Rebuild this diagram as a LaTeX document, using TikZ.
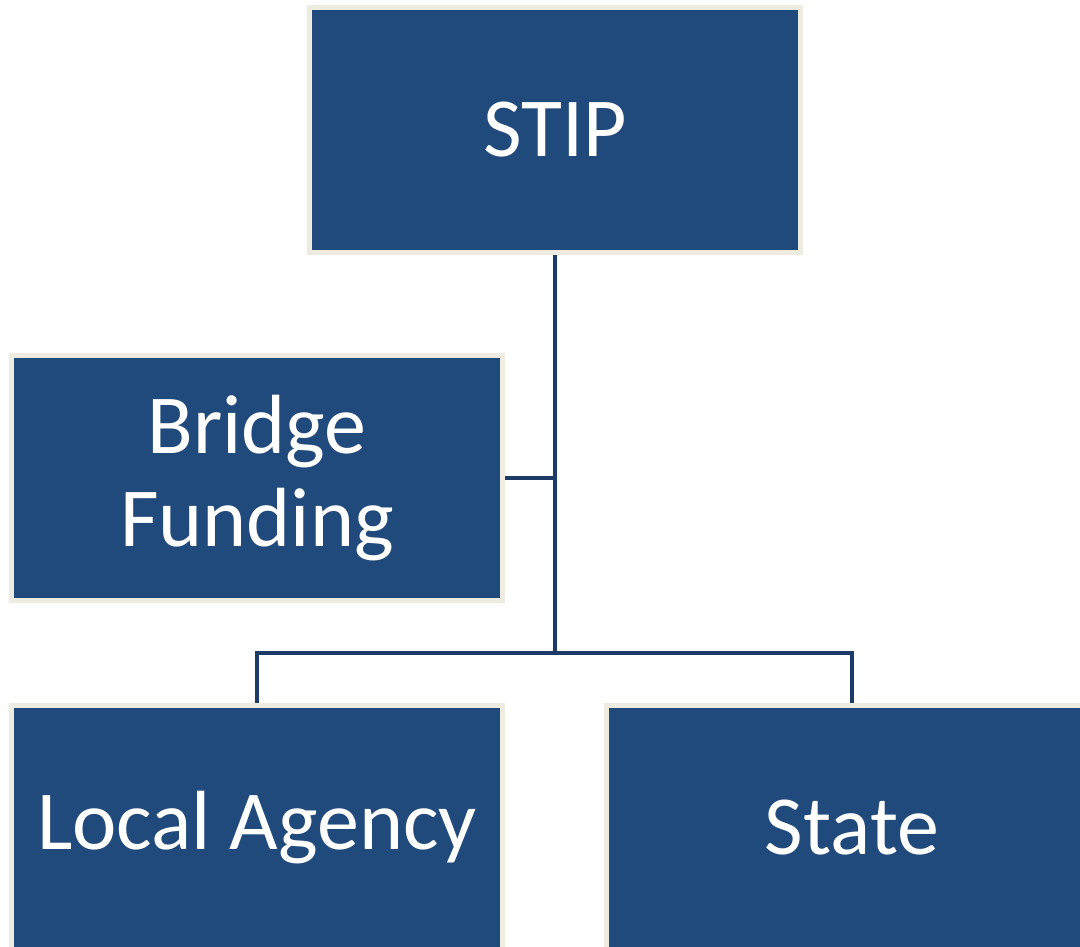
\documentclass[tikz,border=0pt]{standalone}
\usepackage{fontspec}
\setmainfont{Carlito}
\definecolor{boxblue}{HTML}{214A7C}
\definecolor{boxedge}{HTML}{EEEBE1}
\definecolor{linkblue}{HTML}{1C3B66}
\begin{document}
\begin{tikzpicture}[x=1pt,y=-1pt,
  orgbox/.style={draw=boxedge,line width=5pt,fill=boxblue,text=white,
    minimum width=491pt,minimum height=245pt,inner sep=0pt,align=center,
    font=\fontsize{84}{93}\selectfont},
  link/.style={draw=linkblue,line width=4.5pt}]
\useasboundingbox (0,0) rectangle (1080,947);
\clip (0,0) rectangle (1080,947);
\node[orgbox] (stip) at (555,130) {STIP};
\node[orgbox] (bridge) at (257,478) {Bridge\\Funding};
\node[orgbox] (local) at (257,828) {Local Agency};
\node[orgbox] (state) at (852,828) {State};
\coordinate (split) at (555,653);
\draw[link] (stip.south) -- (split);
\draw[link] (bridge.east) -- (555,478);
\draw[link] (local.north) -- (257,653) -- (852,653) -- (state.north);
\end{tikzpicture}
\end{document}
